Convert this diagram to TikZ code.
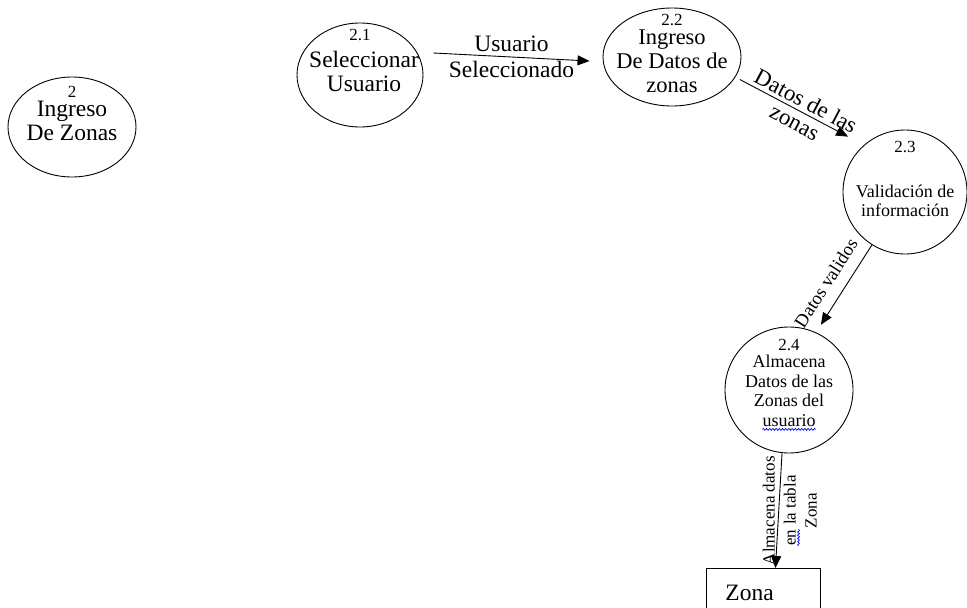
\documentclass[tikz,border=0pt]{standalone}
\usepackage{fontspec}
\setmainfont{Liberation Serif}
\usetikzlibrary{arrows.meta, positioning, shapes.geometric, decorations.pathmorphing}
\newcommand{\ortog}[1]{\tikz[baseline=(w.base)]{\node[inner sep=0pt] (w) {#1};
    \draw[blue, -, line width=0.7pt, decorate, decoration={snake, amplitude=0.9pt, segment length=3.2pt}]
    ([yshift=-3pt]w.base west) -- ([yshift=-3pt]w.base east);}}

\begin{document}
\begin{tikzpicture}[x=1pt, y=-1pt,
    proc/.style={draw, ellipse, line width=0.9pt, inner sep=0pt},
    pnum/.style={inner sep=0pt, font=\fontsize{17}{17}\selectfont},
    grande/.style={align=center, inner sep=0pt, font=\fontsize{23.5}{24}\selectfont},
    chico/.style={align=center, inner sep=0pt, font=\fontsize{18}{19.5}\selectfont},
    flow/.style={-{Triangle[length=12pt, width=10pt]}, line width=0.9pt}]
    \useasboundingbox (0,0) rectangle (967,608);
    \clip (0,0) rectangle (967,608);
    % procesos
    \node[proc, minimum width=128pt, minimum height=100pt] (p2) at (72,127) {};
    \node[pnum, below=9pt of p2.north] (n2) {2};
    \node[grande] (t2) at ([yshift=6pt]p2.center) {Ingreso\\De Zonas};
    \node[proc, minimum width=126pt, minimum height=104pt] (p21) at (360,75) {};
    \node[pnum, below=6pt of p21.north] (n21) {2.1};
    \node[grande] (t21) at ([xshift=4pt, yshift=4pt]p21.center) {Seleccionar\\Usuario};
    \node[proc, minimum width=138pt, minimum height=98pt] (p22) at (672,57) {};
    \node[pnum, below=6pt of p22.north] (n22) {2.2};
    \node[grande, font=\fontsize{22.5}{24}\selectfont] (t22) at ([yshift=-4pt]p22.center) {Ingreso\\De Datos de\\zonas};
    \node[proc, minimum width=124pt, minimum height=124pt] (p23) at (905,192) {};
    \node[pnum, below=11pt of p23.north] (n23) {2.3};
    \node[chico] (t23) at ([yshift=-9pt]p23.center) {Validación de\\información};
    \node[proc, minimum width=128pt, minimum height=126pt] (p24) at (789,390) {};
    \node[pnum, below=12pt of p24.north] (n24) {2.4};
    \node[chico] (t24) at ([yshift=-3pt]p24.center) {Almacena\\Datos de las\\Zonas del\\\ortog{usuario}};
    % almacen
    \node[draw, line width=0.9pt, anchor=north west, minimum width=114pt, minimum height=48pt,
        text width=76pt, inner xsep=19pt, align=left, font=\fontsize{23.5}{24}\selectfont] (zona) at (706,568) {Zona};
    % flujos
    \draw[flow] ([xshift=10pt, yshift=22pt]p21.east) -- ([xshift=-13pt, yshift=-4pt]p22.west)
        node[midway, align=center, font=\fontsize{23.5}{26}\selectfont] (f1) {Usuario\\Seleccionado};
    \draw[flow] ([xshift=6pt]p22.-20) -- ([xshift=-12pt, yshift=12pt]p23.136)
        node[pos=0.56, sloped, align=center, font=\fontsize{23}{24}\selectfont] (f2) {Datos de las\\zonas};
    \draw[flow] (p23.238) -- ([xshift=4pt, yshift=8pt]p24.64)
        node[pos=0.6, sloped, above=8pt, font=\fontsize{18.5}{18}\selectfont] (f3) {Datos validos};
    \draw[flow] ([xshift=-7pt]p24.south) -- ([xshift=12pt]zona.north)
        node[midway, xshift=11pt, rotate=90, align=center, font=\fontsize{17}{21}\selectfont] (f4) {Almacena datos\\\ortog{en} la tabla\\Zona};
\end{tikzpicture}
\end{document}
